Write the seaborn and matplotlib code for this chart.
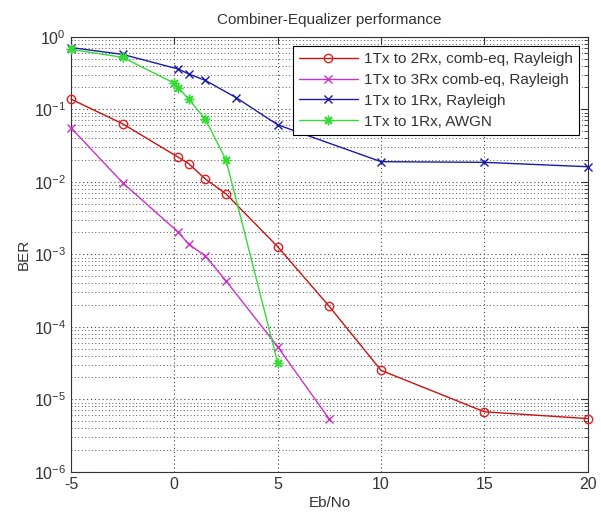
import pandas as pd
import matplotlib
matplotlib.use('Agg')
import matplotlib.pyplot as plt
import matplotlib.ticker as mticker
import seaborn as sns

# BER values
x_2rx = [-5, -2.5, 0.2, 0.7, 1.5, 2.5, 5, 7.5, 10, 15, 20]
ber_2rx = [0.138, 0.063, 0.0217, 0.0177, 0.0109, 0.0068, 0.00127, 1.9e-4, 2.5e-5, 6.7e-6, 5.4e-6]

x_3rx = [-5, -2.5, 0.2, 0.7, 1.5, 2.5, 5, 7.5]
ber_3rx = [0.0556, 0.0097, 0.0020, 0.00137, 9.5e-4, 4.3e-4, 5.3e-5, 5.3e-6]

x_1rx = [-5, -2.5, 0.2, 0.7, 1.5, 3, 5, 10, 15, 20]
ber_1rx = [0.71, 0.57, 0.358, 0.306, 0.25, 0.144, 0.061, 0.0189, 0.0185, 0.0161]

x_awgn = [-5, -2.5, 0, 0.2, 0.7, 1.5, 2.5, 5]
ber_awgn = [0.67, 0.52, 0.228, 0.198, 0.137, 0.073, 0.020, 3.2e-5]

labels = ['1Tx to 2Rx, comb-eq, Rayleigh', '1Tx to 3Rx comb-eq, Rayleigh',
          '1Tx to 1Rx, Rayleigh', '1Tx to 1Rx, AWGN']


def main():
    sns.set_theme(style='white')
    plt.rcParams['font.family'] = ['Liberation Sans', 'DejaVu Sans']
    plt.rcParams['mathtext.fontset'] = 'custom'
    plt.rcParams['mathtext.rm'] = 'Liberation Sans'
    plt.rcParams['axes.unicode_minus'] = False

    fig = plt.figure(figsize=(6.01, 5.18), dpi=100)
    ax = fig.add_axes([0.118, 0.0894, 0.86, 0.8397])

    series = [
        (x_2rx, ber_2rx, '#cc1010', dict(marker='o', markersize=6, markerfacecolor='none',
                                         markeredgecolor='#e02020')),
        (x_3rx, ber_3rx, '#cc30cc', dict(marker='x', markersize=5.5, markeredgecolor='#cc30cc')),
        (x_1rx, ber_1rx, '#1a1aaa', dict(marker='x', markersize=5.5, markeredgecolor='#1a1aaa')),
        (x_awgn, ber_awgn, '#33dd33', dict(marker=(8, 2, 0), markersize=7, markeredgecolor='#33dd33')),
    ]
    for (xs, ys, col, mk), lab in zip(series, labels):
        df = pd.DataFrame({'EbNo': xs, 'BER': ys})
        sns.lineplot(data=df, x='EbNo', y='BER', color=col, linewidth=1,
                     markeredgewidth=1, label=lab, sort=False, clip_on=False,
                     zorder=3, ax=ax, **mk)

    ax.set_yscale('log')
    ax.set_xlim(-5, 20)
    ax.set_ylim(1e-6, 1)
    ax.set_xticks([-5, 0, 5, 10, 15, 20])
    ax.yaxis.set_major_locator(mticker.LogLocator(base=10, numticks=10))
    ax.yaxis.set_minor_locator(mticker.LogLocator(base=10, subs=range(2, 10), numticks=10))
    ax.yaxis.set_minor_formatter(mticker.NullFormatter())

    # MATLAB style dotted grid
    ax.grid(True, which='major', color='#444444', linestyle=(0, (1, 2.5)), linewidth=0.8)
    ax.grid(True, which='minor', axis='y', color='#555555', linestyle=(0, (1, 2.5)), linewidth=0.7)
    ax.set_axisbelow(True)

    ax.tick_params(which='both', direction='in', top=True, right=True,
                   labelsize=11.5, colors='#333333')
    ax.tick_params(which='major', length=5, width=0.8)
    ax.tick_params(which='minor', length=3, width=0.6)
    for sp in ax.spines.values():
        sp.set_color('#333333')
        sp.set_linewidth(0.8)

    ax.set_xlabel('Eb/No', fontsize=11, color='#333333', labelpad=3)
    ax.set_ylabel('BER', fontsize=11, color='#333333', labelpad=2)
    ax.set_title('Combiner-Equalizer performance', fontsize=11, color='#333333', pad=9)

    leg = ax.legend(loc='upper right', fontsize=11, frameon=True, fancybox=False,
                    handlelength=3.8, borderaxespad=0.6, labelspacing=0.45,
                    borderpad=0.4, handletextpad=0.4)
    leg.get_frame().set_edgecolor('black')
    leg.get_frame().set_linewidth(0.8)
    leg.get_frame().set_alpha(1)
    for t in leg.get_texts():
        t.set_color('#333333')

    fig.savefig('out.png', dpi=100, facecolor='white')


if __name__ == "__main__":
    main()
